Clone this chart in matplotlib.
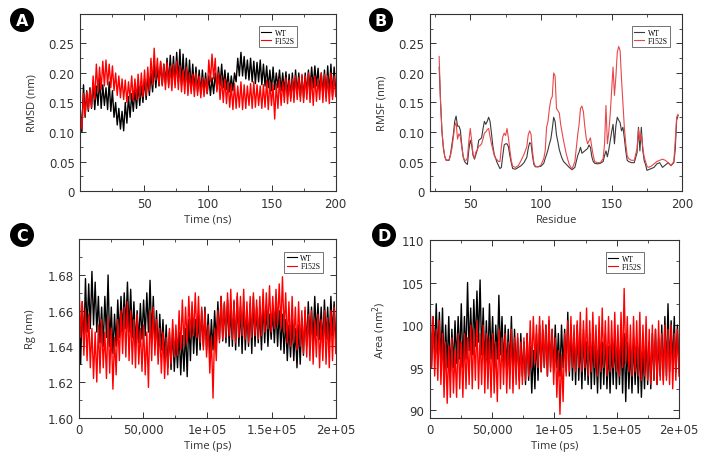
import numpy as np
import matplotlib.pyplot as plt
from matplotlib.patches import Ellipse
from matplotlib.ticker import MultipleLocator

plt.rcParams['font.family'] = ['DejaVu Sans']

# === DATA ===
# A: RMSD, upper / lower edge of the noisy trace every 2.5 ns, in 1e-3 nm
rmsd_wt_hi = [140, 180, 170, 175, 185, 178, 190, 180, 175, 185,
              170, 150, 140, 135, 150, 160, 165, 172, 180, 178,
              190, 195, 200, 215, 210, 218, 215, 225, 230, 228,
              235, 240, 232, 225, 222, 215, 210, 205, 205, 200,
              195, 192, 200, 210, 215, 205, 200, 195, 200, 225,
              235, 228, 222, 225, 220, 218, 222, 215, 212, 205,
              210, 200, 205, 200, 202, 198, 200, 205, 200, 195,
              200, 205, 210, 212, 208, 200, 205, 212, 215, 210]
rmsd_wt_lo = [100, 125, 135, 140, 138, 145, 140, 145, 138, 135,
              125, 112, 105, 102, 115, 125, 135, 140, 145, 150,
              155, 162, 168, 175, 178, 180, 182, 180, 185, 182,
              185, 180, 178, 175, 172, 170, 168, 165, 168, 165,
              162, 165, 172, 178, 175, 172, 168, 170, 185, 195,
              195, 190, 188, 185, 182, 185, 180, 178, 175, 170,
              172, 175, 170, 168, 160, 158, 162, 165, 160, 158,
              165, 172, 175, 178, 170, 165, 160, 165, 160, 168]
rmsd_mut_hi = [130, 165, 168, 172, 195, 215, 210, 220, 222, 215,
               212, 200, 195, 190, 188, 185, 195, 190, 198, 200,
               205, 210, 225, 242, 225, 220, 215, 218, 212, 215,
               220, 212, 205, 210, 200, 198, 200, 195, 192, 190,
               222, 232, 225, 200, 192, 190, 185, 180, 182, 178,
               185, 180, 178, 182, 185, 180, 178, 180, 188, 185,
               180, 182, 190, 185, 192, 188, 190, 195, 192, 198,
               195, 200, 192, 195, 190, 200, 198, 195, 200, 195]
rmsd_mut_lo = [105, 128, 138, 142, 155, 168, 172, 178, 180, 175,
               170, 162, 158, 155, 150, 155, 152, 155, 158, 160,
               162, 170, 180, 188, 180, 178, 172, 175, 170, 175,
               172, 168, 165, 162, 165, 160, 162, 158, 160, 165,
               185, 190, 168, 155, 150, 148, 142, 138, 140, 142,
               138, 140, 145, 140, 142, 145, 140, 142, 138, 145,
               122, 140, 145, 150, 148, 152, 150, 155, 152, 150,
               155, 150, 145, 152, 155, 150, 152, 148, 155, 160]

# B: RMSF per residue (nm)
residue = [28, 29, 30, 31, 32, 33, 35, 36, 37, 38,
           39, 40, 41, 42, 43, 44, 45, 46, 47, 48,
           49, 50, 51, 52, 53, 54, 55, 56, 57, 58,
           59, 60, 61, 62, 63, 64, 65, 66, 67, 68,
           69, 70, 71, 72, 73, 74, 75, 76, 77, 78,
           79, 80, 82, 84, 86, 88, 90, 91, 92, 93,
           94, 95, 96, 98, 100, 102, 103, 104, 105, 106,
           107, 108, 109, 110, 111, 112, 113, 114, 115, 116,
           118, 120, 122, 124, 126, 127, 128, 129, 130, 131,
           132, 133, 134, 135, 136, 137, 138, 140, 142, 144,
           145, 146, 147, 148, 149, 150, 151, 152, 153, 154,
           155, 156, 157, 158, 159, 160, 161, 162, 164, 166,
           168, 169, 170, 171, 172, 173, 174, 175, 176, 178,
           180, 182, 184, 186, 188, 190, 192, 194, 195, 196,
           197]
rmsf_wt = [0.210, 0.150, 0.100, 0.072, 0.058, 0.052, 0.052, 0.062, 0.078, 0.095,
           0.118, 0.127, 0.110, 0.110, 0.103, 0.078, 0.058, 0.050, 0.047, 0.045,
           0.070, 0.086, 0.078, 0.060, 0.054, 0.062, 0.070, 0.086, 0.088, 0.090,
           0.105, 0.118, 0.113, 0.118, 0.125, 0.118, 0.098, 0.076, 0.062, 0.055,
           0.048, 0.043, 0.038, 0.040, 0.060, 0.078, 0.080, 0.080, 0.075, 0.060,
           0.048, 0.038, 0.037, 0.040, 0.043, 0.048, 0.057, 0.072, 0.082, 0.080,
           0.060, 0.045, 0.041, 0.041, 0.042, 0.047, 0.055, 0.062, 0.070, 0.080,
           0.088, 0.105, 0.125, 0.118, 0.095, 0.083, 0.070, 0.062, 0.055, 0.050,
           0.045, 0.040, 0.036, 0.040, 0.060, 0.066, 0.074, 0.064, 0.066, 0.068,
           0.070, 0.072, 0.078, 0.074, 0.058, 0.050, 0.047, 0.046, 0.047, 0.050,
           0.060, 0.068, 0.058, 0.070, 0.085, 0.100, 0.113, 0.080, 0.110, 0.125,
           0.120, 0.116, 0.102, 0.108, 0.090, 0.068, 0.052, 0.050, 0.048, 0.048,
           0.065, 0.108, 0.068, 0.108, 0.070, 0.052, 0.045, 0.035, 0.036, 0.038,
           0.040, 0.046, 0.048, 0.040, 0.044, 0.048, 0.043, 0.048, 0.070, 0.120,
           0.128]
rmsf_mut = [0.228, 0.150, 0.100, 0.075, 0.058, 0.052, 0.053, 0.060, 0.072, 0.090,
            0.110, 0.116, 0.088, 0.097, 0.092, 0.074, 0.058, 0.052, 0.052, 0.056,
            0.085, 0.106, 0.085, 0.062, 0.056, 0.066, 0.070, 0.076, 0.077, 0.080,
            0.088, 0.098, 0.100, 0.104, 0.106, 0.092, 0.080, 0.070, 0.060, 0.055,
            0.053, 0.050, 0.050, 0.075, 0.092, 0.098, 0.094, 0.106, 0.090, 0.070,
            0.052, 0.042, 0.040, 0.043, 0.052, 0.062, 0.075, 0.095, 0.102, 0.096,
            0.068, 0.048, 0.042, 0.041, 0.044, 0.055, 0.068, 0.108, 0.118, 0.140,
            0.155, 0.160, 0.200, 0.195, 0.140, 0.136, 0.132, 0.112, 0.098, 0.085,
            0.062, 0.045, 0.037, 0.050, 0.095, 0.113, 0.140, 0.144, 0.135, 0.110,
            0.090, 0.080, 0.085, 0.090, 0.074, 0.060, 0.050, 0.048, 0.048, 0.055,
            0.080, 0.145, 0.080, 0.100, 0.130, 0.170, 0.210, 0.162, 0.193, 0.235,
            0.245, 0.238, 0.190, 0.150, 0.108, 0.080, 0.060, 0.055, 0.052, 0.052,
            0.072, 0.105, 0.085, 0.097, 0.075, 0.058, 0.050, 0.042, 0.040, 0.042,
            0.046, 0.050, 0.052, 0.054, 0.052, 0.048, 0.043, 0.050, 0.085, 0.125,
            0.130]

# C: Rg (nm), upper / lower edge every 2500 ps
rg_wt_hi = [1.672, 1.665, 1.678, 1.675, 1.682, 1.676, 1.668, 1.662, 1.668, 1.680,
            1.662, 1.658, 1.666, 1.668, 1.670, 1.676, 1.672, 1.665, 1.660, 1.664,
            1.666, 1.670, 1.677, 1.668, 1.660, 1.658, 1.655, 1.652, 1.648, 1.650,
            1.645, 1.648, 1.646, 1.650, 1.655, 1.660, 1.655, 1.658, 1.660, 1.662,
            1.658, 1.655, 1.660, 1.665, 1.668, 1.664, 1.666, 1.662, 1.665, 1.668,
            1.662, 1.665, 1.660, 1.664, 1.668, 1.662, 1.660, 1.665, 1.663, 1.658,
            1.660, 1.662, 1.660, 1.658, 1.655, 1.652, 1.655, 1.650, 1.652, 1.656,
            1.660, 1.665, 1.662, 1.668, 1.664, 1.662, 1.666, 1.662, 1.668, 1.665]
rg_wt_lo = [1.630, 1.640, 1.648, 1.650, 1.652, 1.648, 1.642, 1.640, 1.645, 1.640,
            1.636, 1.640, 1.645, 1.648, 1.650, 1.648, 1.645, 1.640, 1.642, 1.644,
            1.646, 1.648, 1.645, 1.640, 1.636, 1.638, 1.632, 1.628, 1.627, 1.626,
            1.628, 1.624, 1.626, 1.623, 1.632, 1.636, 1.635, 1.638, 1.640, 1.638,
            1.636, 1.638, 1.642, 1.644, 1.643, 1.642, 1.640, 1.640, 1.638, 1.640,
            1.636, 1.638, 1.640, 1.636, 1.640, 1.642, 1.638, 1.642, 1.640, 1.644,
            1.642, 1.640, 1.638, 1.636, 1.632, 1.634, 1.632, 1.628, 1.630, 1.635,
            1.640, 1.644, 1.642, 1.646, 1.644, 1.640, 1.644, 1.642, 1.646, 1.644]
rg_mut_hi = [1.676, 1.665, 1.660, 1.658, 1.650, 1.648, 1.652, 1.655, 1.648, 1.656,
             1.650, 1.645, 1.655, 1.660, 1.662, 1.665, 1.660, 1.655, 1.658, 1.650,
             1.652, 1.648, 1.660, 1.662, 1.655, 1.650, 1.648, 1.645, 1.650, 1.655,
             1.652, 1.660, 1.666, 1.662, 1.668, 1.665, 1.670, 1.668, 1.662, 1.660,
             1.652, 1.645, 1.650, 1.660, 1.668, 1.665, 1.670, 1.672, 1.666, 1.670,
             1.668, 1.672, 1.665, 1.668, 1.670, 1.666, 1.668, 1.672, 1.670, 1.674,
             1.668, 1.672, 1.675, 1.679, 1.670, 1.665, 1.668, 1.662, 1.665, 1.660,
             1.662, 1.658, 1.660, 1.655, 1.658, 1.655, 1.660, 1.656, 1.660, 1.662]
rg_mut_lo = [1.645, 1.635, 1.632, 1.628, 1.622, 1.620, 1.625, 1.628, 1.622, 1.625,
             1.616, 1.624, 1.632, 1.636, 1.634, 1.632, 1.630, 1.628, 1.630, 1.626,
             1.624, 1.617, 1.632, 1.635, 1.630, 1.625, 1.622, 1.624, 1.630, 1.634,
             1.635, 1.638, 1.640, 1.642, 1.645, 1.646, 1.645, 1.642, 1.638, 1.634,
             1.625, 1.611, 1.632, 1.642, 1.644, 1.645, 1.646, 1.644, 1.642, 1.645,
             1.646, 1.644, 1.642, 1.645, 1.646, 1.644, 1.646, 1.648, 1.650, 1.648,
             1.650, 1.652, 1.650, 1.648, 1.642, 1.640, 1.642, 1.638, 1.640, 1.636,
             1.634, 1.632, 1.630, 1.634, 1.628, 1.632, 1.630, 1.628, 1.632, 1.636]

# D: SASA area (nm^2), upper / lower edge every 2500 ps
area_wt_hi = [103, 101, 102.5, 101.5, 102, 100, 101, 99.5, 100.5, 101,
              102.5, 101, 105, 102, 103, 104, 105.3, 102, 100.5, 102.5,
              101, 100, 103.5, 101, 100, 99.5, 101, 99.5, 98.5, 99,
              98, 99, 97.5, 97, 99, 100, 99.5, 100, 100.5, 99.5,
              100, 99, 100, 99.5, 101.5, 100, 99, 100, 98.5, 99.5,
              98, 99, 98.5, 97.5, 98.5, 98, 99, 97.5, 98, 98.5,
              97.5, 98.5, 99, 98, 97.5, 98.5, 97.5, 98, 97, 98.5,
              98, 99, 99.5, 98.5, 100, 101, 102.5, 100.5, 101, 100]
area_wt_lo = [95, 96.5, 96, 95.5, 94.5, 95, 94, 95, 95.5, 96,
              95, 96, 97, 96.5, 97.5, 98, 96.5, 95, 95.5, 96,
              95, 96, 96.5, 95, 94.5, 95, 94, 94.5, 93.5, 94,
              93, 93.5, 92, 92.5, 93.5, 94.5, 95, 94, 95, 94.5,
              95, 94, 95, 94.5, 94, 93.5, 93, 93.5, 92.5, 93.5,
              93, 92.5, 93, 92, 92.5, 93, 92.5, 92, 93, 92.5,
              93, 92, 91, 92.5, 92, 93, 92, 91.5, 92.5, 93,
              92.5, 93.5, 93, 94, 93.5, 94, 94.5, 95, 94.5, 95]
area_mut_hi = [103.5, 101, 99.5, 100.5, 99, 98, 97.5, 98.5, 97, 99,
               98, 99, 98.5, 100, 99.5, 100.5, 99, 100, 99, 98.5,
               99, 98, 99.5, 98.5, 99, 98, 99.5, 98.5, 99, 98,
               98.5, 99, 100.5, 101, 100, 101, 100.5, 100, 101, 99.5,
               98.5, 97, 96.5, 99, 100.5, 101, 100, 100.5, 101.5, 100.5,
               102, 100.5, 101.5, 100, 101, 102, 100.5, 101, 100.5, 101.5,
               100, 101.5, 104.3, 101, 100, 101, 100.5, 101.5, 100, 101,
               99.5, 100, 99.5, 100.5, 99, 100, 99.5, 100, 99, 99.5]
area_mut_lo = [95, 94, 93.5, 93, 91.5, 90.8, 91.5, 92, 91.5, 92.5,
               91.5, 92.5, 93, 92.5, 93.5, 92.5, 93, 92, 92.5, 91.5,
               92, 91, 92.5, 93, 92, 92.5, 92, 93, 92.5, 93,
               93.5, 94, 95, 95.5, 95, 94.5, 95, 94, 94.5, 93,
               91.5, 89.5, 91, 94, 94.5, 95, 94.5, 95, 94.5, 95,
               94, 94.5, 95, 94, 94.5, 95, 94, 94.5, 95, 94.5,
               94, 95, 95.5, 94.5, 94, 94.5, 94, 93.5, 94, 93.5,
               93, 93.5, 93, 93.5, 93, 93.5, 93, 92.5, 93.5, 94]


def trace(hi, lo, t_end):
    # alternate upper / lower edge values -> dense noisy band
    y = np.column_stack([hi, lo]).ravel()
    x = np.linspace(0, t_end, len(y))
    return x, y


def style(ax, xlabel, ylabel, ylabelpad):
    for s in ax.spines.values():
        s.set_color('#333333')
        s.set_linewidth(0.8)
    ax.tick_params(which='both', direction='in', top=True, right=True,
                   colors='#333333', labelsize=8.5, pad=4)
    ax.tick_params(which='major', length=4, width=0.7)
    ax.tick_params(which='minor', length=2, width=0.6)
    ax.set_xlabel(xlabel, fontsize=8, family='Open Sans', color='#333333', labelpad=3)
    ax.set_ylabel(ylabel, fontsize=8, family='Open Sans', color='#333333', labelpad=ylabelpad)


def legend(ax, x, y):
    lg = ax.legend(loc='upper left', bbox_to_anchor=(x, y), fancybox=False,
                   prop={'family': 'Liberation Serif', 'size': 5.5},
                   handlelength=1.3, handletextpad=0.5, borderpad=0.3,
                   labelspacing=0.05, borderaxespad=0)
    lg.get_frame().set_edgecolor('#333333')
    lg.get_frame().set_linewidth(0.6)
    for h in lg.get_lines():
        h.set_linewidth(0.8)


LW = 1.0

fig = plt.figure(figsize=(7.08, 4.64), dpi=100)
axA = fig.add_axes([0.1134, 0.5862, 0.3608, 0.3815])
axB = fig.add_axes([0.6073, 0.5862, 0.3564, 0.3815])
axC = fig.add_axes([0.1116, 0.0976, 0.3626, 0.3845])
axD = fig.add_axes([0.6073, 0.0976, 0.3517, 0.3830])

# --- A: RMSD ---
x, y = trace(rmsd_wt_hi, rmsd_wt_lo, 200)
axA.plot(x, np.array(y) / 1000, color='black', lw=LW, label='WT')
x, y = trace(rmsd_mut_hi, rmsd_mut_lo, 200)
axA.plot(x, np.array(y) / 1000, color='red', lw=LW, label='F152S')
axA.set_xlim(0, 200)
axA.set_ylim(0, 0.3)
axA.set_xticks([50, 100, 150, 200])
axA.xaxis.set_minor_locator(MultipleLocator(25))
axA.set_yticks([0, 0.05, 0.10, 0.15, 0.20, 0.25])
axA.set_yticklabels(['0', '0.05', '0.10', '0.15', '0.20', '0.25'])
axA.yaxis.set_minor_locator(MultipleLocator(0.025))
style(axA, 'Time (ns)', 'RMSD (nm)', 8)
legend(axA, 0.70, 0.93)

# --- B: RMSF ---
axB.plot(residue, rmsf_wt, color='#3a3a3a', lw=0.8, label='WT')
axB.plot(residue, rmsf_mut, color='#e8474a', lw=0.8, label='F152S')
axB.set_xlim(21.5, 200)
axB.set_ylim(0, 0.3)
axB.set_xticks([50, 100, 150, 200])
axB.xaxis.set_minor_locator(MultipleLocator(25))
axB.set_yticks([0, 0.05, 0.10, 0.15, 0.20, 0.25])
axB.set_yticklabels(['0', '0.05', '0.10', '0.15', '0.20', '0.25'])
axB.yaxis.set_minor_locator(MultipleLocator(0.025))
style(axB, 'Residue', 'RMSF (nm)', 8)
legend(axB, 0.80, 0.93)

# --- C: Rg ---
x, y = trace(rg_wt_hi, rg_wt_lo, 2e5)
axC.plot(x, y, color='black', lw=LW, label='WT')
x, y = trace(rg_mut_hi, rg_mut_lo, 2e5)
axC.plot(x, y, color='red', lw=LW, label='F152S')
axC.set_xlim(0, 2e5)
axC.set_ylim(1.60, 1.70)
axC.set_xticks([0, 5e4, 1e5, 1.5e5, 2e5])
axC.set_xticklabels(['0', '50,000', '1e+05', '1.5e+05', '2e+05'])
axC.xaxis.set_minor_locator(MultipleLocator(25000))
axC.set_yticks([1.60, 1.62, 1.64, 1.66, 1.68])
axC.set_yticklabels(['1.60', '1.62', '1.64', '1.66', '1.68'])
axC.yaxis.set_minor_locator(MultipleLocator(0.01))
style(axC, 'Time (ps)', 'Rg (nm)', 8)
legend(axC, 0.80, 0.93)

# --- D: Area ---
x, y = trace(area_wt_hi, area_wt_lo, 2e5)
axD.plot(x, y, color='black', lw=LW, label='WT')
x, y = trace(area_mut_hi, area_mut_lo, 2e5)
axD.plot(x, y, color='red', lw=LW, label='F152S')
axD.set_xlim(0, 2e5)
axD.set_ylim(89.1, 110)
axD.set_xticks([0, 5e4, 1e5, 1.5e5, 2e5])
axD.set_xticklabels(['0', '50,000', '1e+05', '1.5e+05', '2e+05'])
axD.xaxis.set_minor_locator(MultipleLocator(25000))
axD.set_yticks([90, 95, 100, 105, 110])
axD.yaxis.set_minor_locator(MultipleLocator(2.5))
style(axD, 'Time (ps)', 'Area (nm$^2$)', 10)
legend(axD, 0.705, 0.93)

# panel letters in black discs
W, H = 708, 464
for letter, (cx, cy) in zip('ABCD', [(22, 21), (381, 21), (22, 236), (384, 236)]):
    fx, fy = cx / W, 1 - cy / H
    fig.patches.append(Ellipse((fx, fy), 24 / W, 24 / H, transform=fig.transFigure,
                               facecolor='black', edgecolor='none'))
    fig.text(fx, fy - 0.5 / H, letter, color='white', fontsize=11.5, fontweight='bold',
             ha='center', va='center')

fig.savefig('out.png', dpi=100)
